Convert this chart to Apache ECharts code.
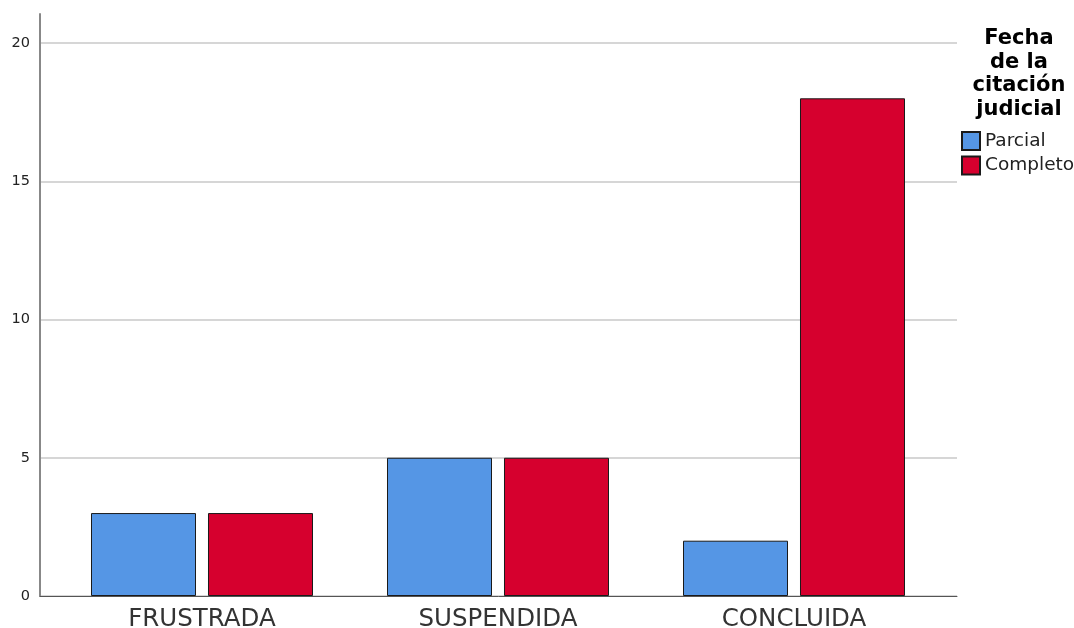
<!DOCTYPE html>
<html>
<head>
<meta charset="utf-8">
<script src="https://cdn.jsdelivr.net/npm/echarts@6/dist/echarts.min.js"></script>
<style>html,body{margin:0;padding:0;background:#fff}#c{width:1074px;height:628px}</style>
</head>
<body>
<div id="c"></div>
<script>
const categories = ['FRUSTRADA', 'SUSPENDIDA', 'CONCLUIDA'];
const parcial = [3, 5, 2];
const completo = [3, 5, 18];
const seriesNames = ['Parcial', 'Completo'];
const legendTitle = 'Fecha\nde la\ncitación\njudicial';

const chart = echarts.init(document.getElementById('c'));
const font = 'DejaVu Sans, Liberation Sans, Arial, sans-serif';
const border = {borderColor: '#1a1a1a', borderWidth: 1};
chart.setOption({
  animation: false,
  backgroundColor: '#fff',
  textStyle: {fontFamily: font},
  title: {
    text: legendTitle, left: 1014, top: 22, textAlign: 'center',
    textStyle: {fontFamily: font, fontSize: 21, fontWeight: 'bold', color: '#000', lineHeight: 23.5}
  },
  legend: {
    data: seriesNames, orient: 'vertical', left: 956, top: 126,
    itemWidth: 18, itemHeight: 18, itemGap: 4.5,
    textStyle: {fontFamily: font, fontSize: 18.5, color: '#222', lineHeight: 18},
    icon: 'rect'
  },
  grid: [
    {left: 40, right: 117, top: 14, bottom: 32, outerBoundsMode: 'none', containLabel: false},
    {left: 40, right: 117, top: 43, bottom: 32, outerBoundsMode: 'none', containLabel: false},
    {left: 54, right: 132, top: 43, bottom: 32, outerBoundsMode: 'none', containLabel: false}
  ],
  xAxis: [
    {gridIndex: 0, type: 'value', min: 0, max: 1, axisLine: {show: true, lineStyle: {color: '#555', width: 1}}, axisTick: {show: false}, axisLabel: {show: false}, splitLine: {show: false}},
    {gridIndex: 1, type: 'value', min: 0, max: 1, show: false},
    {gridIndex: 2, type: 'category', data: categories,
     axisLine: {show: false}, axisTick: {show: false},
     axisLabel: {fontFamily: font, fontSize: 24.5, color: '#333', margin: 11}}
  ],
  yAxis: [
    {gridIndex: 0, type: 'value', min: 0, max: 21, axisLine: {show: true, lineStyle: {color: '#888', width: 2}}, axisTick: {show: false}, axisLabel: {show: false}, splitLine: {show: false}},
    {gridIndex: 1, type: 'value', min: 0, max: 20, interval: 5, axisLine: {show: false}, axisTick: {show: false},
     axisLabel: {fontFamily: font, fontSize: 14.5, color: '#222', margin: 10},
     splitLine: {show: true, lineStyle: {color: '#c8c8c8', width: 1.5}}},
    {gridIndex: 2, type: 'value', min: 0, max: 20, show: false}
  ],
  series: [
    {name: seriesNames[0], type: 'bar', xAxisIndex: 2, yAxisIndex: 2, data: parcial,
     barCategoryGap: '25%', barGap: '11.4%', itemStyle: Object.assign({color: '#5596e5'}, border)},
    {name: seriesNames[1], type: 'bar', xAxisIndex: 2, yAxisIndex: 2, data: completo,
     barCategoryGap: '25%', barGap: '11.4%', itemStyle: Object.assign({color: '#d6002e'}, border)}
  ]
});
</script>
</body>
</html>
